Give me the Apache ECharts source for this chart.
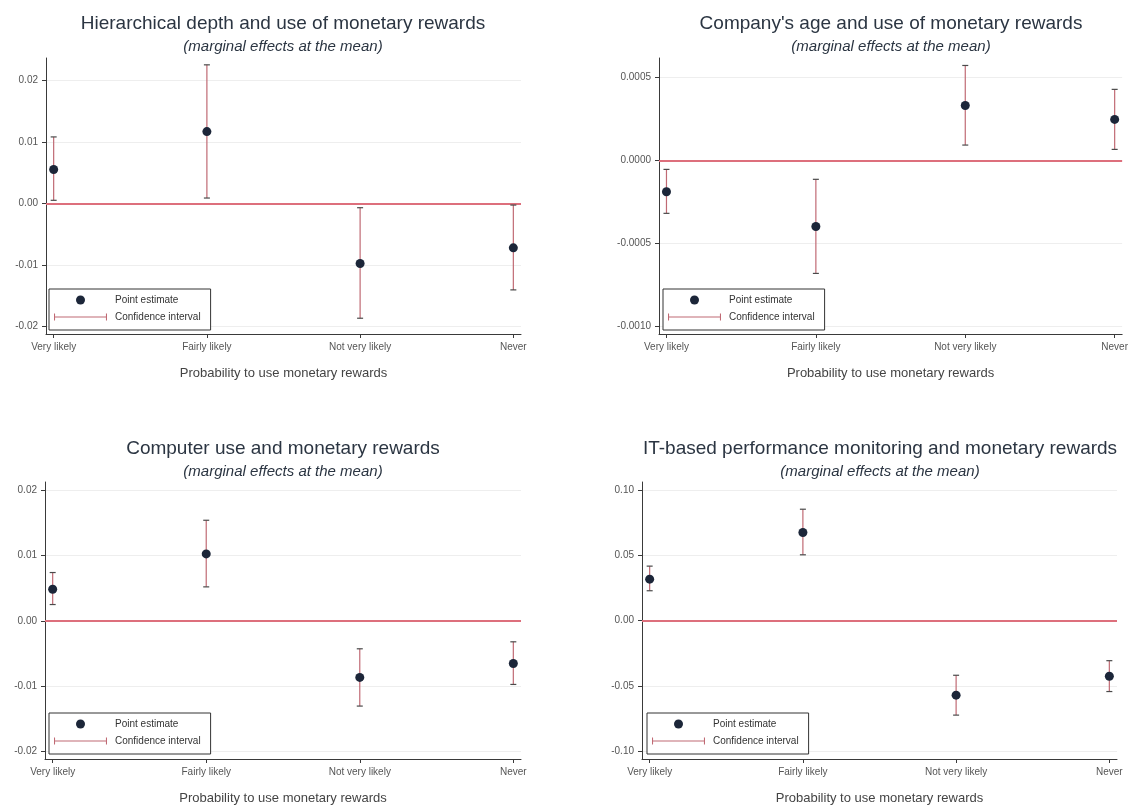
<!DOCTYPE html>
<html>
<head>
<meta charset="utf-8">
<script src="https://cdn.jsdelivr.net/npm/echarts@6/dist/echarts.min.js"></script>
<style>
html,body{margin:0;padding:0;background:#fff;}
#chart{width:1131px;height:806px;}
</style>
</head>
<body>
<div id="chart"></div>
<script>
// ---------- data ----------
const categories = ['Very likely', 'Fairly likely', 'Not very likely', 'Never'];
const xAxisTitle = 'Probability to use monetary rewards';
const subtitleText = '(marginal effects at the mean)';

const titles = [
  'Hierarchical depth and use of monetary rewards',
  "Company's age and use of monetary rewards",
  'Computer use and monetary rewards',
  'IT-based performance monitoring and monetary rewards'
];

// Panel 1: hierarchical depth
const hierPoint = [0.0055, 0.01165, -0.00976, -0.00721];
const hierLow   = [0.0005, 0.00087, -0.01864, -0.01404];
const hierHigh  = [0.01079, 0.02249, -0.0007, -0.00027];
const hierTicks = [-0.02, -0.01, 0, 0.01, 0.02];

// Panel 2: company's age
const agePoint = [-0.000189, -0.000398, 0.000331, 0.000247];
const ageLow   = [-0.000319, -0.000681, 0.0000924, 0.0000663];
const ageHigh  = [-0.0000542, -0.000114, 0.000572, 0.000428];
const ageTicks = [-0.001, -0.0005, 0, 0.0005];

// Panel 3: computer use
const compPoint = [0.00485, 0.01027, -0.00868, -0.00654];
const compLow   = [0.0025, 0.00521, -0.01308, -0.00976];
const compHigh  = [0.00741, 0.01543, -0.00429, -0.00322];
const compTicks = [-0.02, -0.01, 0, 0.01, 0.02];

// Panel 4: IT-based monitoring
const itPoint = [0.0319, 0.0677, -0.0572, -0.0427];
const itLow   = [0.0230, 0.0506, -0.0725, -0.0544];
const itHigh  = [0.0419, 0.0856, -0.0419, -0.0307];
const itTicks = [-0.1, -0.05, 0, 0.05, 0.1];

// ---------- layout / style ----------
const FONT = "'Liberation Sans', Arial, sans-serif";
const TITLE_COLOR = '#2b3542';
const AXIS_COLOR = '#3a3a3a';
const LABEL_COLOR = '#555';
const POINT_COLOR = '#1c2639';
const CI_COLOR = '#c06a74';
const CAP_COLOR = '#4a4a4a';
const ZERO_COLOR = '#dd6f7c';

const panels = [
  {point: hierPoint, low: hierLow, high: hierHigh, ticks: hierTicks, dec: 2,
   grid: {left: 46, top: 58, width: 475, height: 276}, yMin: -0.0212, yMax: 0.0236,
   titleX: 283, titleTop: 14, legend: {left: 49, top: 289}},
  {point: agePoint, low: ageLow, high: ageHigh, ticks: ageTicks, dec: 4,
   grid: {left: 659, top: 58, width: 464, height: 276}, yMin: -0.001046, yMax: 0.000617,
   titleX: 891, titleTop: 14, legend: {left: 663, top: 289}},
  {point: compPoint, low: compLow, high: compHigh, ticks: compTicks, dec: 2,
   grid: {left: 45, top: 482, width: 476, height: 277}, yMin: -0.0212, yMax: 0.0213,
   titleX: 283, titleTop: 439, legend: {left: 49, top: 713}},
  {point: itPoint, low: itLow, high: itHigh, ticks: itTicks, dec: 2,
   grid: {left: 642, top: 482, width: 475, height: 277}, yMin: -0.1062, yMax: 0.1065,
   titleX: 880, titleTop: 439, legend: {left: 647, top: 713}}
];

function renderCI(params, api) {
  const x = api.value(0), lo = api.value(1), hi = api.value(2);
  const pLo = api.coord([x, lo]);
  const pHi = api.coord([x, hi]);
  const cap = 3;
  return {
    type: 'group',
    children: [
      {type: 'line', shape: {x1: pLo[0], y1: pLo[1], x2: pHi[0], y2: pHi[1]},
       style: {stroke: CI_COLOR, lineWidth: 1.2}},
      {type: 'line', shape: {x1: pHi[0] - cap, y1: pHi[1], x2: pHi[0] + cap, y2: pHi[1]},
       style: {stroke: CAP_COLOR, lineWidth: 1.2}},
      {type: 'line', shape: {x1: pLo[0] - cap, y1: pLo[1], x2: pLo[0] + cap, y2: pLo[1]},
       style: {stroke: CAP_COLOR, lineWidth: 1.2}}
    ]
  };
}

const option = {
  backgroundColor: '#fff',
  animation: false,
  textStyle: {fontFamily: FONT},
  title: [], grid: [], xAxis: [], yAxis: [], series: [], legend: []
};

const xPos = categories.map((c, i) => i + 1);

panels.forEach((p, i) => {
  option.title.push({
    text: titles[i], subtext: subtitleText,
    left: p.titleX, top: p.titleTop, textAlign: 'center', padding: 0, itemGap: 6,
    textStyle: {fontFamily: FONT, fontSize: 19, fontWeight: 'normal', color: TITLE_COLOR},
    subtextStyle: {fontFamily: FONT, fontSize: 15, fontStyle: 'italic', color: TITLE_COLOR}
  });
  option.grid.push(Object.assign({containLabel: false}, p.grid));
  option.xAxis.push({
    gridIndex: i, type: 'value', min: 0.95, max: 4.05,
    name: xAxisTitle, nameLocation: 'middle', nameGap: 33,
    nameTextStyle: {fontFamily: FONT, fontSize: 13, color: '#444'},
    axisLine: {show: true, onZero: false, lineStyle: {color: AXIS_COLOR, width: 1}},
    axisTick: {show: true, length: 4, customValues: xPos, lineStyle: {color: AXIS_COLOR}},
    axisLabel: {customValues: xPos, margin: 8, fontSize: 10, color: LABEL_COLOR, fontFamily: FONT,
                formatter: v => categories[Math.round(v) - 1]},
    splitLine: {show: false}
  });
  option.yAxis.push({
    gridIndex: i, type: 'value', min: p.yMin, max: p.yMax,
    axisLine: {show: true, onZero: false, lineStyle: {color: AXIS_COLOR, width: 1}},
    axisTick: {show: true, length: 4, customValues: p.ticks, lineStyle: {color: AXIS_COLOR}},
    axisLabel: {customValues: p.ticks, margin: 8, fontSize: 10, color: LABEL_COLOR, fontFamily: FONT,
                formatter: v => Number(v).toFixed(p.dec)},
    splitLine: {show: true, lineStyle: {color: '#eeeeee', width: 1}}
  });
  option.series.push({
    name: 'Confidence interval', type: 'custom', xAxisIndex: i, yAxisIndex: i,
    renderItem: renderCI, itemStyle: {color: CI_COLOR},
    data: xPos.map((x, k) => [x, p.low[k], p.high[k]]),
    encode: {x: 0, y: [1, 2]}, z: 3
  });
  option.series.push({
    name: 'Point estimate', type: 'scatter', xAxisIndex: i, yAxisIndex: i,
    symbol: 'circle', symbolSize: 9, itemStyle: {color: POINT_COLOR, opacity: 1},
    data: xPos.map((x, k) => [x, p.point[k]]), z: 4,
    markLine: {
      silent: true, symbol: 'none', label: {show: false},
      lineStyle: {color: ZERO_COLOR, width: 2, type: 'solid'},
      data: [{yAxis: 0}], z: 2
    }
  });
  option.legend.push({
    orient: 'vertical', left: p.legend.left, top: p.legend.top,
    padding: [6, 10, 8, 5], itemGap: 7, itemWidth: 53, itemHeight: 9,
    borderColor: '#333', borderWidth: 1, backgroundColor: '#fff',
    selectedMode: false,
    textStyle: {fontFamily: FONT, fontSize: 10, color: '#333', padding: [0, 0, 0, 3]},
    data: [
      {name: 'Point estimate', icon: 'circle', itemStyle: {color: POINT_COLOR}},
      {name: 'Confidence interval',
       icon: 'path://M0,0h1.2v8h-1.2z M0,3.4h60v1.2h-60z M58.8,0h1.2v8h-1.2z',
       itemStyle: {color: CI_COLOR}}
    ]
  });
});

const chart = echarts.init(document.getElementById('chart'), null, {renderer: 'canvas'});
chart.setOption(option);
</script>
</body>
</html>
